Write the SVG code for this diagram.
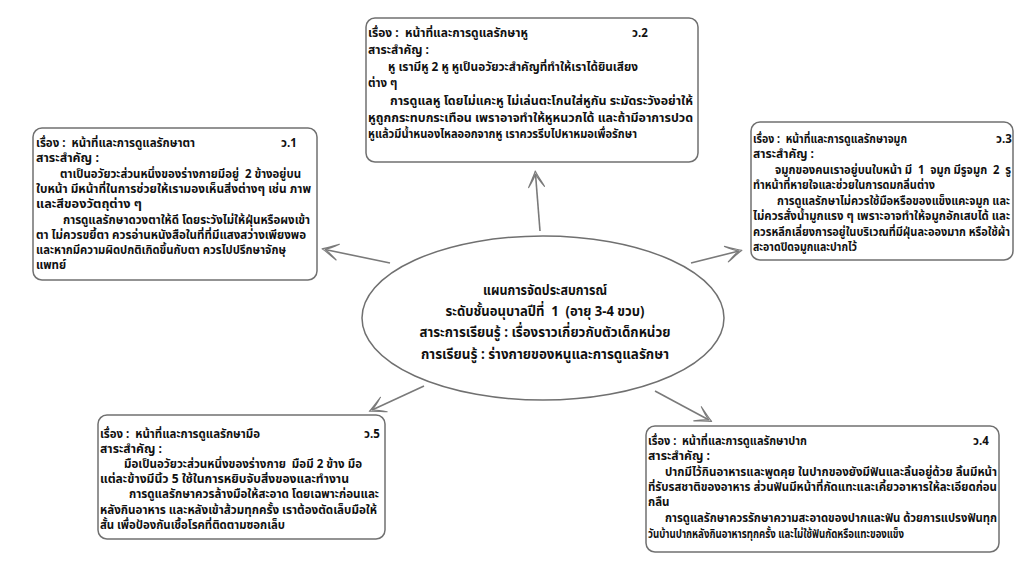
<svg xmlns="http://www.w3.org/2000/svg" width="1024" height="563" viewBox="0 0 1024 563">
<style>
.box{fill:#fff;stroke:#707070;stroke-width:1.5}
.el{fill:#fff;stroke:#707070;stroke-width:1.5}
text{font-family:"Noto Sans Thai","Noto Sans","DejaVu Sans",sans-serif;font-weight:bold;fill:#111;white-space:pre}
.t{font-size:11.5px}
.c{font-size:14.5px;text-anchor:middle}
.conn{stroke:#7a7a7a;stroke-width:1.6;fill:none;marker-end:url(#ah)}
</style>
<defs>
<marker id="ah" markerUnits="userSpaceOnUse" markerWidth="24" markerHeight="24" viewBox="-20 -12 24 24" refX="-3" refY="0" orient="auto">
<path d="M 0 0 C -5 -2 -10 -5 -16 -8 C -12 -5 -8 -2 -3 0 C -8 2 -12 5 -16 8 C -10 5 -5 2 0 0 Z" fill="#fff" stroke="#7a7a7a" stroke-width="1.1" stroke-linejoin="round"/>
</marker>
</defs>
<rect width="1024" height="563" fill="#fff"/>
<g id="connectors">
<path class="conn" d="M 540 231 L 535.5 174"/>
<path class="conn" d="M 390 263 L 325 249.5"/>
<path class="conn" d="M 691 263 L 739 251"/>
<path class="conn" d="M 424 386 L 372 410"/>
<path class="conn" d="M 655 391 L 709 420"/>
</g>
<g id="center">
<ellipse class="el" cx="543" cy="318" rx="181" ry="82"/>
<text class="c" x="545" y="295" textLength="124" lengthAdjust="spacingAndGlyphs">แผนการจัดประสบการณ์</text>
<text class="c" x="545" y="316" textLength="199" lengthAdjust="spacingAndGlyphs">ระดับชั้นอนุบาลปีที่  1  (อายุ 3-4 ขวบ)</text>
<text class="c" x="545" y="337" textLength="251" lengthAdjust="spacingAndGlyphs">สาระการเรียนรู้ : เรื่องราวเกี่ยวกับตัวเด็กหน่วย</text>
<text class="c" x="545" y="359" textLength="248" lengthAdjust="spacingAndGlyphs">การเรียนรู้ : ร่างกายของหนูและการดูแลรักษา</text>
</g>
<g id="ear">
<rect class="box" x="366" y="18" width="332" height="144" rx="9"/>
<text class="t" x="368" y="37" textLength="160" lengthAdjust="spacingAndGlyphs">เรื่อง :  หน้าที่และการดูแลรักษาหู</text>
<text class="t" x="632" y="37">ว.2</text>
<text class="t" x="368" y="54" textLength="61" lengthAdjust="spacingAndGlyphs">สาระสำคัญ :</text>
<text class="t" x="388" y="71" textLength="250" lengthAdjust="spacingAndGlyphs">หู เรามีหู 2 หู หูเป็นอวัยวะสำคัญที่ทำให้เราได้ยินเสียง</text>
<text class="t" x="368" y="87">ต่าง ๆ</text>
<text class="t" x="390" y="105" textLength="303" lengthAdjust="spacingAndGlyphs">การดูแลหู โดยไม่แคะหู ไม่เล่นตะโกนใส่หูกัน ระมัดระวังอย่าให้</text>
<text class="t" x="368" y="122" textLength="325" lengthAdjust="spacingAndGlyphs">หูถูกกระทบกระเทือน เพราอาจทำให้หูหนวกได้ และถ้ามีอาการปวด</text>
<text class="t" x="368" y="138" textLength="269" lengthAdjust="spacingAndGlyphs">หูแล้วมีน้ำหนองไหลออกจากหู เราควรรีบไปหาหมอเพื่อรักษา</text>
</g>
<g id="eye">
<rect class="box" x="33" y="128" width="284" height="152" rx="9"/>
<text class="t" x="36" y="147" textLength="159" lengthAdjust="spacingAndGlyphs">เรื่อง :  หน้าที่และการดูแลรักษาตา</text>
<text class="t" x="281" y="147">ว.1</text>
<text class="t" x="36" y="162" textLength="63" lengthAdjust="spacingAndGlyphs">สาระสำคัญ :</text>
<text class="t" x="60" y="178" textLength="241" lengthAdjust="spacingAndGlyphs">ตาเป็นอวัยวะส่วนหนึ่งของร่างกายมีอยู่  2 ข้างอยู่บน</text>
<text class="t" x="36" y="193" textLength="275" lengthAdjust="spacingAndGlyphs">ใบหน้า มีหน้าที่ในการช่วยให้เรามองเห็นสิ่งต่างๆ เช่น ภาพ</text>
<text class="t" x="36" y="208" textLength="106" lengthAdjust="spacingAndGlyphs">และสีของวัตถุต่าง ๆ</text>
<text class="t" x="63" y="224" textLength="247" lengthAdjust="spacingAndGlyphs">การดูแลรักษาดวงตาให้ดี โดยระวังไม่ให้ฝุ่นหรือผงเข้า</text>
<text class="t" x="36" y="239" textLength="270" lengthAdjust="spacingAndGlyphs">ตา ไม่ควรขยี้ตา ควรอ่านหนังสือในที่ที่มีแสงสว่างเพียงพอ</text>
<text class="t" x="36" y="254" textLength="250" lengthAdjust="spacingAndGlyphs">และหากมีความผิดปกติเกิดขึ้นกับตา ควรไปปรึกษาจักษุ</text>
<text class="t" x="36" y="269">แพทย์</text>
</g>
<g id="nose">
<rect class="box" x="751" y="122" width="262" height="138" rx="9"/>
<text class="t" x="753" y="143" textLength="154" lengthAdjust="spacingAndGlyphs">เรื่อง :  หน้าที่และการดูแลรักษาจมูก</text>
<text class="t" x="996" y="143">ว.3</text>
<text class="t" x="753" y="158" textLength="61" lengthAdjust="spacingAndGlyphs">สาระสำคัญ :</text>
<text class="t" x="775" y="174" textLength="236" lengthAdjust="spacingAndGlyphs">จมูกของคนเราอยู่บนใบหน้า มี  1  จมูก มีรูจมูก  2  รู</text>
<text class="t" x="753" y="189" textLength="182" lengthAdjust="spacingAndGlyphs">ทำหน้าที่หายใจและช่วยในการดมกลิ่นต่าง</text>
<text class="t" x="777" y="205" textLength="233" lengthAdjust="spacingAndGlyphs">การดูแลรักษาไม่ควรใช้มือหรือของแข็งแคะจมูก และ</text>
<text class="t" x="753" y="220" textLength="257" lengthAdjust="spacingAndGlyphs">ไม่ควรสั่งน้ำมูกแรง ๆ เพราะอาจทำให้จมูกอักเสบได้ และ</text>
<text class="t" x="753" y="236" textLength="257" lengthAdjust="spacingAndGlyphs">ควรหลีกเลี่ยงการอยู่ในบริเวณที่มีฝุ่นละอองมาก หรือใช้ผ้า</text>
<text class="t" x="753" y="251" textLength="104" lengthAdjust="spacingAndGlyphs">สะอาดปิดจมูกและปากไว้</text>
</g>
<g id="hand">
<rect class="box" x="98" y="415" width="287" height="124" rx="9"/>
<text class="t" x="100" y="438" textLength="160" lengthAdjust="spacingAndGlyphs">เรื่อง :  หน้าที่และการดูแลรักษามือ</text>
<text class="t" x="364" y="438">ว.5</text>
<text class="t" x="100" y="453" textLength="62" lengthAdjust="spacingAndGlyphs">สาระสำคัญ :</text>
<text class="t" x="124" y="468" textLength="238" lengthAdjust="spacingAndGlyphs">มือเป็นอวัยวะส่วนหนึ่งของร่างกาย  มือมี 2 ข้าง มือ</text>
<text class="t" x="100" y="483" textLength="249" lengthAdjust="spacingAndGlyphs">แต่ละข้างมีนิ้ว 5 ใช้ในการหยิบจับสิ่งของและทำงาน</text>
<text class="t" x="129" y="498" textLength="250" lengthAdjust="spacingAndGlyphs">การดูแลรักษาควรล้างมือให้สะอาด โดยเฉพาะก่อนและ</text>
<text class="t" x="100" y="514" textLength="277" lengthAdjust="spacingAndGlyphs">หลังกินอาหาร และหลังเข้าส้วมทุกครั้ง เราต้องตัดเล็บมือให้</text>
<text class="t" x="100" y="529" textLength="185" lengthAdjust="spacingAndGlyphs">สั้น เพื่อป้องกันเชื้อโรคที่ติดตามซอกเล็บ</text>
</g>
<g id="mouth">
<rect class="box" x="646" y="426" width="353" height="126" rx="9"/>
<text class="t" x="648" y="445" textLength="159" lengthAdjust="spacingAndGlyphs">เรื่อง :  หน้าที่และการดูแลรักษาปาก</text>
<text class="t" x="973" y="445">ว.4</text>
<text class="t" x="648" y="460" textLength="62" lengthAdjust="spacingAndGlyphs">สาระสำคัญ :</text>
<text class="t" x="665" y="476" textLength="332" lengthAdjust="spacingAndGlyphs">ปากมีไว้กินอาหารและพูดคุย ในปากของยังมีฟันและลิ้นอยู่ด้วย ลิ้นมีหน้า</text>
<text class="t" x="648" y="491" textLength="349" lengthAdjust="spacingAndGlyphs">ที่รับรสชาติของอาหาร ส่วนฟันมีหน้าที่กัดแทะและเคี้ยวอาหารให้ละเอียดก่อน</text>
<text class="t" x="648" y="506">กลืน</text>
<text class="t" x="665" y="522" textLength="332" lengthAdjust="spacingAndGlyphs">การดูแลรักษาควรรักษาความสะอาดของปากและฟัน ด้วยการแปรงฟันทุก</text>
<text class="t" x="648" y="538" textLength="256" lengthAdjust="spacingAndGlyphs">วันบ้านปากหลังกินอาหารทุกครั้ง และไม่ใช้ฟันกัดหรือแทะของแข็ง</text>
</g>
</svg>
